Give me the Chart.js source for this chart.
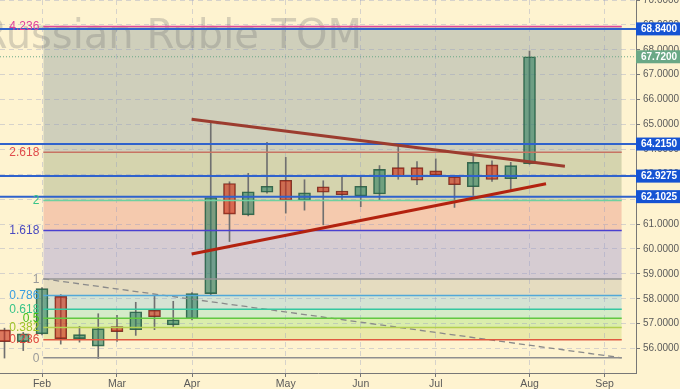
<!DOCTYPE html>
<html>
<head>
<meta charset="utf-8">
<script src="https://cdn.jsdelivr.net/npm/chart.js@4/dist/chart.umd.min.js"></script>
<style>
  html, body { margin: 0; padding: 0; background: #fef3d0; }
  #wrap { width: 680px; height: 389px; }
</style>
</head>
<body>
<div id="wrap"><canvas id="rubChart" width="680" height="389"></canvas></div>
<script>
// Weekly candles, index 0 = last week of January
const weekIdx = [0, 1, 2, 3, 4, 5, 6, 7, 8, 9, 10, 11, 12, 13, 14, 15, 16, 17, 18, 19, 20, 21, 22, 23, 24, 25, 26, 27, 28];
const opens  = [56.75, 56.28, 56.59, 58.10, 56.40, 56.10, 56.88, 56.76, 57.54, 56.95, 57.20, 58.21, 62.63, 61.37, 62.28, 62.76, 61.94, 62.50, 62.33, 62.13, 62.21, 63.27, 63.27, 63.14, 62.90, 62.50, 63.38, 62.82, 63.43];
const highs  = [56.82, 56.65, 58.45, 58.17, 56.89, 57.40, 57.34, 57.86, 58.10, 57.90, 58.25, 65.05, 62.70, 63.04, 64.28, 63.68, 62.78, 62.74, 62.91, 62.90, 63.35, 64.18, 63.51, 63.62, 62.95, 63.80, 63.54, 63.48, 67.95];
const lows   = [55.62, 55.92, 56.55, 56.18, 56.26, 55.60, 56.29, 56.53, 56.76, 56.88, 57.15, 58.15, 60.30, 61.33, 62.24, 61.44, 61.56, 60.97, 61.97, 61.70, 61.96, 62.80, 62.58, 62.95, 61.67, 62.15, 62.71, 62.31, 63.40];
const closes = [56.28, 56.59, 58.41, 56.40, 56.56, 56.80, 56.68, 57.48, 57.28, 57.16, 58.21, 62.07, 61.40, 62.30, 62.52, 61.94, 62.26, 62.28, 62.18, 62.52, 63.20, 62.90, 62.76, 62.97, 62.58, 63.48, 62.79, 63.35, 67.72];

const monthTicks  = [2, 6, 10, 15, 19, 23, 28, 32];
const monthLabels = ['Feb', 'Mar', 'Apr', 'May', 'Jun', 'Jul', 'Aug', 'Sep'];

// Fibonacci levels
const fibRatios = ['0', '0.236', '0.382', '0.5', '0.618', '0.786', '1', '1.618', '2', '2.618', '4.236'];
const fibValues = [55.63, 56.36, 56.85, 57.22, 57.58, 58.13, 58.80, 60.74, 61.95, 63.89, 68.94];
const fibStart = 2.07;
const fibEnd = 32.92;
const fibLineColors  = ['#8f8f8f', '#e05a40', '#b4d050', '#62c840', '#34c8a0', '#52a8d8', '#959595', '#4a40d0', '#6fd0a0', '#c87462', '#e0459a'];
const fibLabelColors = ['#9a9a9a', '#e04a40', '#a0c428', '#48c018', '#38c488', '#3a9ee0', '#999999', '#4a4ac0', '#38c488', '#e04c4c', '#e0409a'];
const fibBandColors  = [null, '#f5c9ab', '#eae9aa', '#daedac', '#d5ebc8', '#d5e3d3', '#e5dcc0', '#d6ccd2', '#f5caae', '#d5d4ae', '#cfcfbb'];

// Horizontal levels with price tags
const levelValues = [68.84, 64.215, 62.9275, 62.1025];
const lastPrice = 67.72;

// Trend lines
const upperTrendX = [9.98, 29.89];
const upperTrendY = [65.21, 63.32];
const lowerTrendX = [9.98, 28.88];
const lowerTrendY = [59.80, 62.62];
const diagX = [2.07, 32.92];
const diagY = [58.80, 55.63];

const xMin = -0.24, xMax = 33.68;
const yMin = 55.02, yMax = 70;

const isUp = i => closes[i] >= opens[i];
const pts = (xs, ys) => xs.map((x, k) => ({ x: x, y: ys[k] }));

const datasets = [];

// fib levels (fill between consecutive levels)
fibValues.forEach((v, k) => {
    datasets.push({
        type: 'line',
        data: pts([fibStart, fibEnd], [v, v]),
        borderColor: fibLineColors[k],
        borderWidth: 1.5,
        pointRadius: 0,
        fill: k === 0 ? false : '-1',
        backgroundColor: fibBandColors[k] || 'transparent',
        order: 1
    });
});

datasets.push({
    type: 'line',
    data: pts(diagX, diagY),
    borderColor: '#8a8a8a',
    borderWidth: 1.3,
    borderDash: [6, 4],
    pointRadius: 0,
    fill: false,
    order: 1
});

// candles: wicks + bodies as floating bars
datasets.push({
    type: 'bar',
    data: weekIdx.map(i => ({ x: i, y: [lows[i], highs[i]] })),
    backgroundColor: '#707070',
    barThickness: 1,
    grouped: false,
    order: 4
});
datasets.push({
    type: 'bar',
    data: weekIdx.map(i => ({ x: i, y: [opens[i], closes[i]] })),
    backgroundColor: weekIdx.map(i => isUp(i) ? 'rgba(45,125,95,0.6)' : 'rgba(200,45,25,0.62)'),
    borderColor: weekIdx.map(i => isUp(i) ? 'rgba(40,90,65,0.9)' : 'rgba(115,40,30,0.9)'),
    borderWidth: 1,
    borderSkipped: false,
    barThickness: 12,
    grouped: false,
    order: 3
});

datasets.push({
    type: 'line',
    data: pts(upperTrendX, upperTrendY),
    borderColor: '#9c3c2e',
    borderWidth: 3,
    pointRadius: 0,
    fill: false,
    order: 0
});
datasets.push({
    type: 'line',
    data: pts(lowerTrendX, lowerTrendY),
    borderColor: '#b3220f',
    borderWidth: 3,
    pointRadius: 0,
    fill: false,
    order: 0
});

levelValues.forEach(v => {
    datasets.push({
        type: 'line',
        data: pts([xMin, xMax], [v, v]),
        borderColor: '#2f62cc',
        borderWidth: 2,
        pointRadius: 0,
        fill: false,
        order: 0
    });
});
datasets.push({
    type: 'line',
    data: pts([xMin, xMax], [lastPrice, lastPrice]),
    borderColor: '#6aa886',
    borderWidth: 1,
    borderDash: [1, 2],
    pointRadius: 0,
    fill: false,
    order: 0
});

const watermark = {
    id: 'watermark',
    beforeDatasetsDraw(chart) {
        const ctx = chart.ctx;
        ctx.save();
        ctx.font = '40px "DejaVu Sans"';
        ctx.fillStyle = 'rgba(110,110,110,0.28)';
        ctx.textAlign = 'right';
        ctx.textBaseline = 'alphabetic';
        ctx.fillText('Russian Ruble TOM', 362, 48);
        ctx.restore();
    }
};

const fibLabels = {
    id: 'fibLabels',
    afterDatasetsDraw(chart) {
        const ctx = chart.ctx, xs = chart.scales.x, ys = chart.scales.y;
        ctx.save();
        ctx.font = '12px "Liberation Sans", Arial';
        ctx.textAlign = 'right';
        ctx.textBaseline = 'middle';
        fibValues.forEach((v, k) => {
            ctx.fillStyle = fibLabelColors[k];
            ctx.fillText(fibRatios[k], xs.getPixelForValue(fibStart) - 4, ys.getPixelForValue(v) + 0.5);
        });
        ctx.restore();
    }
};

const priceTags = {
    id: 'priceTags',
    afterDraw(chart) {
        const ctx = chart.ctx, ys = chart.scales.y, area = chart.chartArea;
        const tag = (v, bg) => {
            const y = ys.getPixelForValue(v);
            ctx.fillStyle = bg;
            ctx.fillRect(area.right, y - 6.5, chart.width - area.right, 13);
            ctx.fillStyle = '#ffffff';
            ctx.fillText(v.toFixed(4), area.right + 5, y + 0.5);
        };
        ctx.save();
        ctx.font = 'bold 10px "Liberation Sans", Arial';
        ctx.textAlign = 'left';
        ctx.textBaseline = 'middle';
        tag(lastPrice, '#6aa886');
        levelValues.forEach(v => tag(v, '#1553d3'));
        ctx.restore();
    }
};

new Chart(document.getElementById('rubChart'), {
    type: 'line',
    data: { datasets: datasets },
    options: {
        responsive: false,
        animation: false,
        devicePixelRatio: 1,
        layout: { padding: 0 },
        plugins: {
            legend: { display: false },
            tooltip: { enabled: false },
            filler: { drawTime: 'beforeDraw' }
        },
        scales: {
            x: {
                type: 'linear',
                min: xMin,
                max: xMax,
                offset: false,
                afterBuildTicks: scale => { scale.ticks = monthTicks.map(v => ({ value: v })); },
                afterFit: scale => { scale.height = 16; scale.paddingLeft = 0; scale.paddingRight = 0; },
                ticks: {
                    autoSkip: false,
                    maxRotation: 0,
                    padding: 1,
                    color: '#5a5a5a',
                    font: { family: '"Liberation Sans", Arial', size: 10.5 },
                    callback: (value, index) => monthLabels[index]
                },
                grid: { color: 'rgba(140,150,195,0.35)', tickColor: '#777', tickLength: 4, offset: false },
                border: { color: '#777', width: 1, dash: [5, 4] }
            },
            y: {
                position: 'right',
                min: yMin,
                max: yMax,
                afterFit: scale => { scale.width = 44; scale.paddingTop = 0; scale.paddingBottom = 0; },
                ticks: {
                    stepSize: 1,
                    includeBounds: false,
                    padding: 3,
                    color: '#5a5a5a',
                    font: { family: '"Liberation Sans", Arial', size: 10 },
                    callback: v => Number(v).toFixed(4)
                },
                grid: { color: 'rgba(140,150,195,0.35)', tickColor: '#777', tickLength: 4 },
                border: { color: '#777', width: 1, dash: [5, 4] }
            }
        }
    },
    plugins: [watermark, fibLabels, priceTags]
});
</script>
</body>
</html>
